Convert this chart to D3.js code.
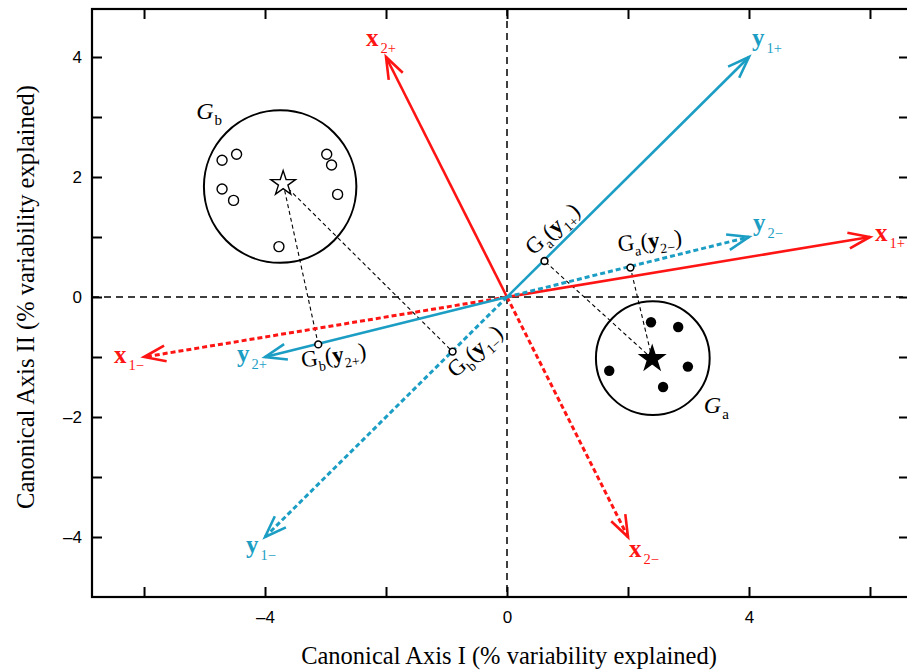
<!DOCTYPE html>
<html><head><meta charset="utf-8">
<script src="https://cdn.jsdelivr.net/npm/d3@7"></script>
<style>body{margin:0;background:#fff}svg{display:block}</style>
</head><body><svg id="c" width="907" height="671"></svg>
<script>
// ---------- data ----------
const vecNames = ["x1+","x1−","x2+","x2−","y1+","y1−","y2+","y2−"];
const vecX     = [6, -6, -2, 2, 4, -4, -4, 4];
const vecY     = [1, -1, 4, -4, 4, -4, -1, 1];

const gaX = [2.38, 2.83, 1.69, 2.99, 2.58];
const gaY = [-0.42, -0.50, -1.23, -1.16, -1.50];
const gbX = [-4.71, -4.47, -4.71, -4.52, -3.77, -2.98, -2.90, -2.80];
const gbY = [2.28, 2.38, 1.80, 1.61, 0.84, 2.38, 2.20, 1.71];

const groupNames = ["a", "b"];
const centroidX  = [2.40, -3.70];
const centroidY  = [-1.03, 1.89];
const circleCX   = [2.41, -3.75];
const circleCY   = [-1.02, 1.84];
const circleR    = [0.94, 1.26];

const projGroup = ["a", "a", "b", "b"];
const projVec   = ["y1+", "y2−", "y2+", "y1−"];
const projX     = [0.62, 2.04, -3.12, -0.90];
const projY     = [0.60, 0.49, -0.79, -0.91];

const xTicks = [-6, -4, -2, 0, 2, 4, 6];
const xTickLabels = ["", "–4", "", "0", "", "4", ""];
const yTicks = [-4, -3, -2, -1, 0, 1, 2, 3, 4];
const yTickLabels = ["–4", "", "–2", "", "0", "", "2", "", "4"];

const xTitle = "Canonical Axis I (% variability explained)";
const yTitle = "Canonical Axis II (% variability explained)";

// ---------- layout / style ----------
const RED = "#ff1414", BLUE = "#1c9ec4";
const SERIF = "'Liberation Serif','Times New Roman',serif";
const L = 92, R = 909, T = 9, B = 597;
const svg = d3.select("#c");
const x = d3.scaleLinear().domain([-6.86, 6.645]).range([L, R]);
const y = d3.scaleLinear().domain([-5.0, 4.8]).range([B, T]);

// axes
function styleAxis(g){
  g.select(".domain").remove();
  g.selectAll(".tick line").attr("stroke","#000").attr("stroke-width",2);
  g.selectAll(".tick text").attr("font-family","'Liberation Sans',Arial,sans-serif").attr("font-size",17).attr("fill","#000");
}
svg.append("g").attr("transform",`translate(0,${B})`)
  .call(d3.axisBottom(x).tickValues(xTicks).tickSizeInner(-10).tickSizeOuter(0).tickPadding(14)
        .tickFormat((d,i)=>xTickLabels[i])).call(styleAxis);
svg.append("g").attr("transform",`translate(0,${T})`)
  .call(d3.axisTop(x).tickValues(xTicks).tickSizeInner(-10).tickSizeOuter(0).tickFormat(()=>"")).call(styleAxis);
svg.append("g").attr("transform",`translate(${L},0)`)
  .call(d3.axisLeft(y).tickValues(yTicks).tickSizeInner(-10).tickSizeOuter(0).tickPadding(10)
        .tickFormat((d,i)=>yTickLabels[i])).call(styleAxis);
svg.append("g").attr("transform",`translate(${R},0)`)
  .call(d3.axisRight(y).tickValues(yTicks).tickSizeInner(-10).tickSizeOuter(0).tickFormat(()=>"")).call(styleAxis);
svg.append("rect").attr("x",L).attr("y",T).attr("width",R-L).attr("height",B-T)
  .attr("fill","none").attr("stroke","#000").attr("stroke-width",2.2);

// titles
svg.append("text").attr("x",509).attr("y",664).attr("text-anchor","middle")
  .attr("font-family",SERIF).attr("font-size",24.5).text(xTitle);
svg.append("text").attr("transform","translate(34,297) rotate(-90)").attr("text-anchor","middle")
  .attr("font-family",SERIF).attr("font-size",24.5).text(yTitle);

// zero lines
svg.append("line").attr("x1",x(0)).attr("x2",x(0)).attr("y1",T).attr("y2",B)
  .attr("stroke","#000").attr("stroke-width",1.5).attr("stroke-dasharray","7,5");
svg.append("line").attr("x1",L).attr("x2",R).attr("y1",y(0)).attr("y2",y(0))
  .attr("stroke","#000").attr("stroke-width",1.5).attr("stroke-dasharray","7,5");

// group circles
const gi = d3.range(groupNames.length);
svg.selectAll(".gcirc").data(gi).join("circle")
  .attr("cx",i=>x(circleCX[i])).attr("cy",i=>y(circleCY[i]))
  .attr("r",i=>x(circleR[i])-x(0))
  .attr("fill","none").attr("stroke","#000").attr("stroke-width",2);

// projection dashed lines
const pi = d3.range(projX.length);
svg.selectAll(".pline").data(pi).join("line")
  .attr("x1",i=>x(centroidX[groupNames.indexOf(projGroup[i])]))
  .attr("y1",i=>y(centroidY[groupNames.indexOf(projGroup[i])]))
  .attr("x2",i=>x(projX[i])).attr("y2",i=>y(projY[i]))
  .attr("stroke","#000").attr("stroke-width",1.1).attr("stroke-dasharray","4,3");

// points
svg.selectAll(".ga").data(d3.range(gaX.length)).join("circle")
  .attr("cx",i=>x(gaX[i])).attr("cy",i=>y(gaY[i])).attr("r",5.2).attr("fill","#000");
svg.selectAll(".gb").data(d3.range(gbX.length)).join("circle")
  .attr("cx",i=>x(gbX[i])).attr("cy",i=>y(gbY[i])).attr("r",5).attr("fill","#fff")
  .attr("stroke","#000").attr("stroke-width",1.4);

// centroid stars
const star = d3.symbol(d3.symbolStar).size(13*13/0.8908130915292852);
svg.selectAll(".star").data(gi).join("path")
  .attr("d",star)
  .attr("transform",i=>`translate(${x(centroidX[i])},${y(centroidY[i])})`)
  .attr("fill",i=>groupNames[i]==="a"?"#000":"#fff")
  .attr("stroke","#000").attr("stroke-width",1.4).attr("stroke-linejoin","miter");

// vectors
const vi = d3.range(vecNames.length);
const colorOf = n => n[0]==="x" ? RED : BLUE;
const dotted = n => n.endsWith("−");
svg.selectAll(".vline").data(vi).join("line")
  .attr("x1",x(0)).attr("y1",y(0)).attr("x2",i=>x(vecX[i])).attr("y2",i=>y(vecY[i]))
  .attr("stroke",i=>colorOf(vecNames[i]))
  .attr("stroke-width",i=>dotted(vecNames[i])?3:2.6)
  .attr("stroke-dasharray",i=>dotted(vecNames[i])?"5,3":null);
function headPath(i){
  const tx=x(vecX[i]), ty=y(vecY[i]);
  const a=Math.atan2(ty-y(0), tx-x(0));
  const len=23, h=20*Math.PI/180;
  const p1=[tx-len*Math.cos(a-h), ty-len*Math.sin(a-h)];
  const p2=[tx-len*Math.cos(a+h), ty-len*Math.sin(a+h)];
  return `M${p1}L${tx},${ty}L${p2}`;
}
svg.selectAll(".vhead").data(vi).join("path")
  .attr("d",headPath).attr("fill","none")
  .attr("stroke",i=>colorOf(vecNames[i])).attr("stroke-width",2.6)
  .attr("stroke-linejoin","miter").attr("stroke-linecap","butt");

// vector labels
const labOff = {"x1+":[5,4],"x1−":[-30,6],"x2+":[-20,-11],"x2−":[1,20],
                "y1+":[3,-11],"y1−":[-19,16],"y2+":[-28,5],"y2−":[4,-6]};
vi.forEach(i=>{
  const n=vecNames[i], o=labOff[n];
  const t=svg.append("text").attr("x",x(vecX[i])+o[0]).attr("y",y(vecY[i])+o[1])
    .attr("font-family",SERIF).attr("fill",colorOf(n));
  t.append("tspan").attr("font-size",25).attr("font-weight","bold").text(n[0]);
  t.append("tspan").attr("font-size",14.5).attr("dx",2).attr("dy",7).text(n.slice(1));
});

// projection points
svg.selectAll(".pp").data(pi).join("circle")
  .attr("cx",i=>x(projX[i])).attr("cy",i=>y(projY[i])).attr("r",3.4)
  .attr("fill","#fff").attr("stroke","#000").attr("stroke-width",1.6);

// projection labels
const projLab = [ {o:[-11,-5],r:-42}, {o:[-12,-16],r:-6}, {o:[-16,23],r:-8}, {o:[3,27],r:-42} ];
pi.forEach(i=>{
  const cfg=projLab[i], n=projVec[i];
  const t=svg.append("text")
    .attr("transform",`translate(${x(projX[i])+cfg.o[0]},${y(projY[i])+cfg.o[1]}) rotate(${cfg.r})`)
    .attr("font-family",SERIF).attr("fill","#000");
  t.append("tspan").attr("font-size",23).text("G");
  t.append("tspan").attr("font-size",14).attr("dy",6).text(projGroup[i]);
  t.append("tspan").attr("font-size",23).attr("dy",-6).text("(");
  t.append("tspan").attr("font-size",23).attr("font-weight","bold").text(n[0]);
  t.append("tspan").attr("font-size",14).attr("dy",6).text(n.slice(1));
  t.append("tspan").attr("font-size",23).attr("dy",-6).text(")");
});

// group labels
const gLabOff = [[51,55],[-84,-68]];
gi.forEach(i=>{
  const t=svg.append("text").attr("x",x(circleCX[i])+gLabOff[i][0]).attr("y",y(circleCY[i])+gLabOff[i][1])
    .attr("font-family",SERIF).attr("fill","#000");
  t.append("tspan").attr("font-size",24).attr("font-style","italic").text("G");
  t.append("tspan").attr("font-size",15).attr("dx",1).attr("dy",6).text(groupNames[i]);
});
</script></body></html>
